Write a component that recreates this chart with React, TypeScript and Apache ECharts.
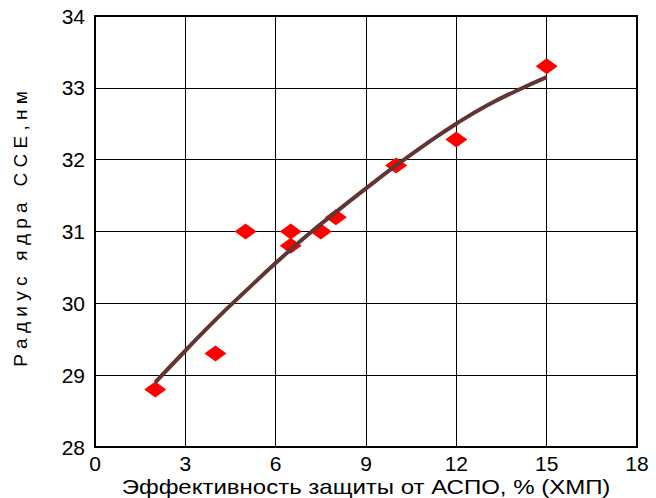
import React, { useEffect, useRef } from "react";
import * as echarts from "echarts";

const pointX = [2, 4, 5, 6.5, 6.5, 7.5, 8, 10, 12, 15];
const pointY = [28.8, 29.3, 31.0, 31.0, 30.8, 31.0, 31.2, 31.92, 32.28, 33.3];

const trendX = [2, 3, 4, 5, 6, 7, 8, 9, 10, 11, 12, 13, 14, 15];
const trendY = [28.9, 29.34, 29.77, 30.17, 30.56, 30.93, 31.27, 31.6, 31.92, 32.22, 32.5, 32.75, 32.96, 33.15];

const xName = "Эффективность защиты от АСПО, % (ХМП)";
const yName = "Р а д и у с   я д р а   С С Е , н м";

export default function App() {
  const ref = useRef<HTMLDivElement>(null);
  useEffect(() => {
    if (!ref.current) return;
    const chart = echarts.init(ref.current, null, { renderer: "svg" });
    const font = "'Liberation Sans', Arial, sans-serif";
    chart.setOption({
      animation: false,
      backgroundColor: "#fff",
      textStyle: { fontFamily: font },
      grid: {
        left: 95,
        top: 16,
        right: 19,
        bottom: 51,
        show: true,
        borderColor: "#000",
        borderWidth: 2,
        containLabel: false,
        outerBoundsMode: "none",
      },
      xAxis: {
        type: "value",
        min: 0,
        max: 18,
        interval: 3,
        axisLine: { show: true, lineStyle: { color: "#000", width: 2 } },
        axisTick: { show: false },
        axisLabel: { fontSize: 21, color: "#000", margin: 6, fontFamily: font },
        splitLine: { show: true, lineStyle: { color: "#000", width: 1 } },
      },
      yAxis: {
        type: "value",
        min: 28,
        max: 34,
        interval: 1,
        axisLine: { show: true, lineStyle: { color: "#000", width: 2 } },
        axisTick: { show: false },
        axisLabel: { fontSize: 21, color: "#000", margin: 10, fontFamily: font },
        splitLine: { show: true, lineStyle: { color: "#000", width: 1 } },
      },
      graphic: [
        {
          type: "text",
          x: 20,
          y: 229,
          rotation: Math.PI / 2,
          style: {
            text: yName,
            fontSize: 19,
            fontFamily: font,
            fill: "#000",
            align: "center",
            verticalAlign: "middle",
          },
        },
        {
          type: "text",
          x: 366,
          y: 487,
          scaleX: 1.2,
          style: {
            text: xName,
            fontSize: 20,
            fontFamily: font,
            fill: "#000",
            align: "center",
            verticalAlign: "middle",
          },
        },
      ],
      series: [
        {
          type: "line",
          data: trendX.map((x, i) => [x, trendY[i]]),
          smooth: true,
          showSymbol: false,
          lineStyle: { color: "#633434", width: 4 },
          z: 3,
        },
        {
          type: "scatter",
          data: pointX.map((x, i) => [x, pointY[i]]),
          symbol: "diamond",
          symbolSize: [22, 16],
          itemStyle: { color: "#ff0000", opacity: 1 },
          z: 2,
        },
      ],
    });
    return () => chart.dispose();
  }, []);
  return (
    <div
      ref={ref}
      style={{ position: "fixed", left: 0, top: 0, width: 656, height: 498 }}
    />
  );
}
